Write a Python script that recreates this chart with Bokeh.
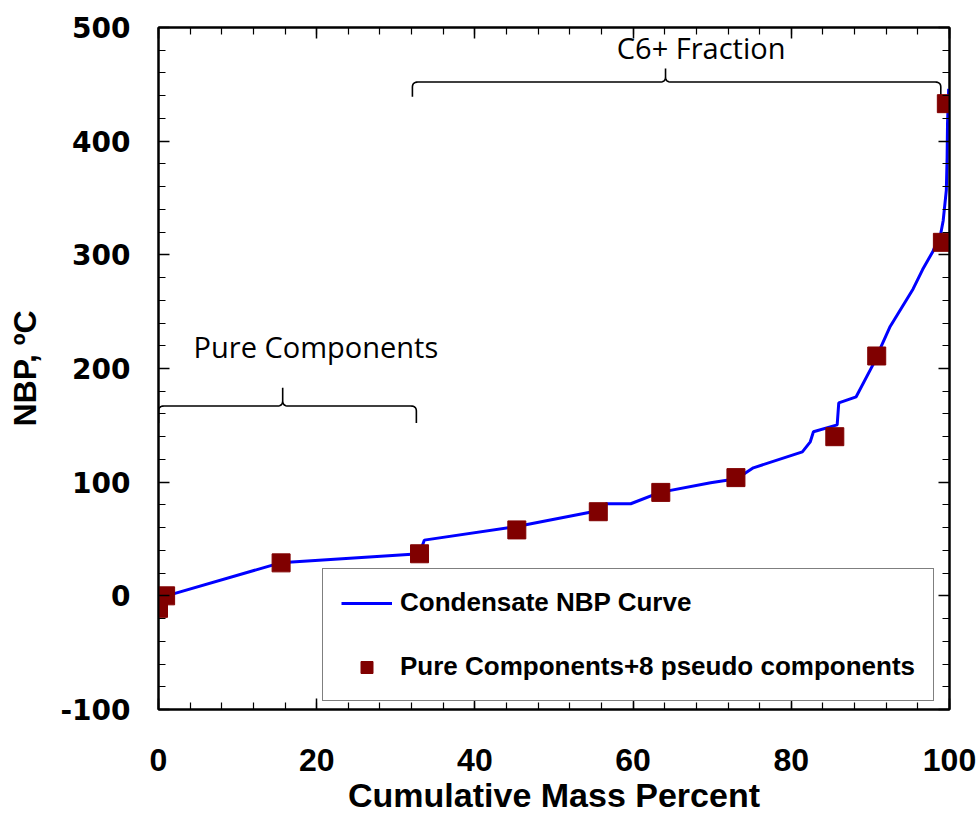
from bokeh.plotting import figure
from bokeh.models import (LinearAxis, SingleIntervalTicker, Legend, LegendItem,
                          NumeralTickFormatter, CustomJSTickFormatter)
from bokeh.core.properties import value
from bokeh.embed import file_html
from bokeh.resources import INLINE

# ---- data ----
curve_x = [1.0, 15.4, 33.0, 33.6, 45.3, 55.7, 56.6, 59.7, 63.4, 69.8, 73.1, 75.2,
           81.4, 82.4, 82.8, 85.8, 86.0, 88.2, 90.3, 92.5, 95.4, 96.6, 97.9, 98.9,
           99.2, 99.6, 99.7, 99.75, 99.9]
curve_y = [0, 29, 37, 49, 61, 75, 81, 81, 91, 99.4, 103, 112.6,
           126.7, 135.5, 144.3, 150.4, 169.8, 175.1, 203, 237, 270, 287, 303, 319,
           330, 357, 386, 416, 446]
comp_x = [0.0, 0.9, 15.5, 33.0, 45.3, 55.6, 63.5, 73.0, 85.5, 90.8, 99.1, 99.6]
comp_y = [-11, 0, 29, 37, 58, 74, 91, 104, 140, 211, 311, 433]

x_ticks_step = 20
y_ticks_step = 100

# ---- annotations ----
note_text = ["Pure Components", "C6+ Fraction"]
note_x = [19.9, 68.6]
note_y = [219, 482]
brace_x0 = [0.0, 32.1]
brace_x1 = [32.6, 98.9]
brace_xm = [15.7, 64.1]
brace_yy = [167, 452]
brace_drop = [15, 13]
brace_rise = [16, 12]


def quad(p0, c, p1, n=8):
    pts = []
    for i in range(n + 1):
        t = i / n
        x = (1 - t) ** 2 * p0[0] + 2 * (1 - t) * t * c[0] + t ** 2 * p1[0]
        y = (1 - t) ** 2 * p0[1] + 2 * (1 - t) * t * c[1] + t ** 2 * p1[1]
        pts.append((x, y))
    return pts


def brace_path(x0, x1, xm, y, drop, rise, rx=0.7, ry=4.5):
    pts = [(x0, y - drop)]
    pts += quad((x0, y - ry), (x0, y), (x0 + rx, y))
    pts += quad((xm - rx, y), (xm, y), (xm, y + ry))
    pts += [(xm, y + rise)]
    pts += quad((xm, y + ry), (xm, y), (xm + rx, y))
    pts += quad((x1 - rx, y), (x1, y), (x1, y - ry))
    pts += [(x1, y - drop)]
    return [p[0] for p in pts], [p[1] for p in pts]


p = figure(width=980, height=816, x_range=(0, 100), y_range=(-100, 500),
           output_backend="svg", toolbar_location=None,
           min_border_left=158, min_border_right=31, min_border_top=27,
           min_border_bottom=107)
p.xgrid.visible = False
p.ygrid.visible = False
p.outline_line_color = "black"
p.outline_line_width = 2
p.background_fill_color = "white"
p.border_fill_color = "white"

# braces and notes
bx, by = [], []
for i in range(len(brace_x0)):
    xs, ys = brace_path(brace_x0[i], brace_x1[i], brace_xm[i], brace_yy[i],
                        brace_drop[i], brace_rise[i])
    bx.append(xs)
    by.append(ys)
p.multi_line(bx, by, line_color="black", line_width=1.6)
p.text(note_x, note_y, text=note_text, text_font=value("Open Sans"),
       text_font_size="29px", text_align="center", text_baseline="middle",
       text_color="black")

r_line = p.line(curve_x, curve_y, line_color="#0000FF", line_width=3)
r_pts = p.scatter(comp_x, comp_y, marker="square", size=18,
                  fill_color="#800000", line_color="#800000")

legend = Legend(items=[LegendItem(label="Condensate NBP Curve", renderers=[r_line]),
                       LegendItem(label="Pure Components+8 pseudo components", renderers=[r_pts])],
                location=(164, 8), orientation="vertical")
legend.label_text_font = "Liberation Sans"
legend.label_text_font_style = "bold"
legend.label_text_font_size = "26px"
legend.label_text_color = "black"
legend.glyph_width = 51
legend.glyph_height = 30
legend.label_height = 30
legend.label_standoff = 8
legend.spacing = 33
legend.padding = 18
legend.margin = 0
legend.border_line_color = "black"
legend.border_line_width = 1.5
legend.background_fill_color = "white"
legend.background_fill_alpha = 1.0
p.add_layout(legend)

xt = SingleIntervalTicker(interval=x_ticks_step, num_minor_ticks=5)
yt = SingleIntervalTicker(interval=y_ticks_step, num_minor_ticks=5)


def style(ax):
    ax.axis_line_color = "black"
    ax.axis_line_width = 2
    ax.major_tick_in = 11
    ax.major_tick_out = 0
    ax.minor_tick_in = 7
    ax.minor_tick_out = 0
    ax.major_tick_line_color = "black"
    ax.minor_tick_line_color = "black"
    ax.major_tick_line_width = 1.5
    ax.minor_tick_line_width = 1.2
    ax.major_label_text_color = "black"
    ax.axis_label_text_color = "black"


xa = p.xaxis[0]
xa.ticker = xt
style(xa)
xa.major_label_text_font = "Liberation Sans"
xa.major_label_text_font_style = "bold"
xa.major_label_text_font_size = "32px"
xa.major_label_standoff = 39
xa.axis_label = "Cumulative Mass Percent"
xa.axis_label_text_font = "Liberation Sans"
xa.axis_label_text_font_style = "bold"
xa.axis_label_text_font_size = "34px"
xa.axis_label_standoff = 2

ya = p.yaxis[0]
ya.ticker = yt
style(ya)
ya.formatter = NumeralTickFormatter(format="0")
ya.major_label_text_font = "DejaVu Sans"
ya.major_label_text_font_style = "bold"
ya.major_label_text_font_size = "28px"
ya.major_label_standoff = 28
ya.axis_label = "NBP, ºC"
ya.axis_label_text_font = "Liberation Sans"
ya.axis_label_text_font_style = "bold"
ya.axis_label_text_font_size = "32px"
ya.axis_label_standoff = 14

blank = CustomJSTickFormatter(code="return '';")

top = LinearAxis(ticker=SingleIntervalTicker(interval=x_ticks_step, num_minor_ticks=5),
                 formatter=blank)
style(top)
top.major_label_standoff = 0
top.major_label_text_font_size = "10px"
p.add_layout(top, "above")

right = LinearAxis(ticker=SingleIntervalTicker(interval=y_ticks_step, num_minor_ticks=5),
                   formatter=blank)
style(right)
right.major_label_standoff = 0
right.major_label_text_font_size = "10px"
p.add_layout(right, "right")

open("out.html", "w").write(file_html(p, INLINE))
